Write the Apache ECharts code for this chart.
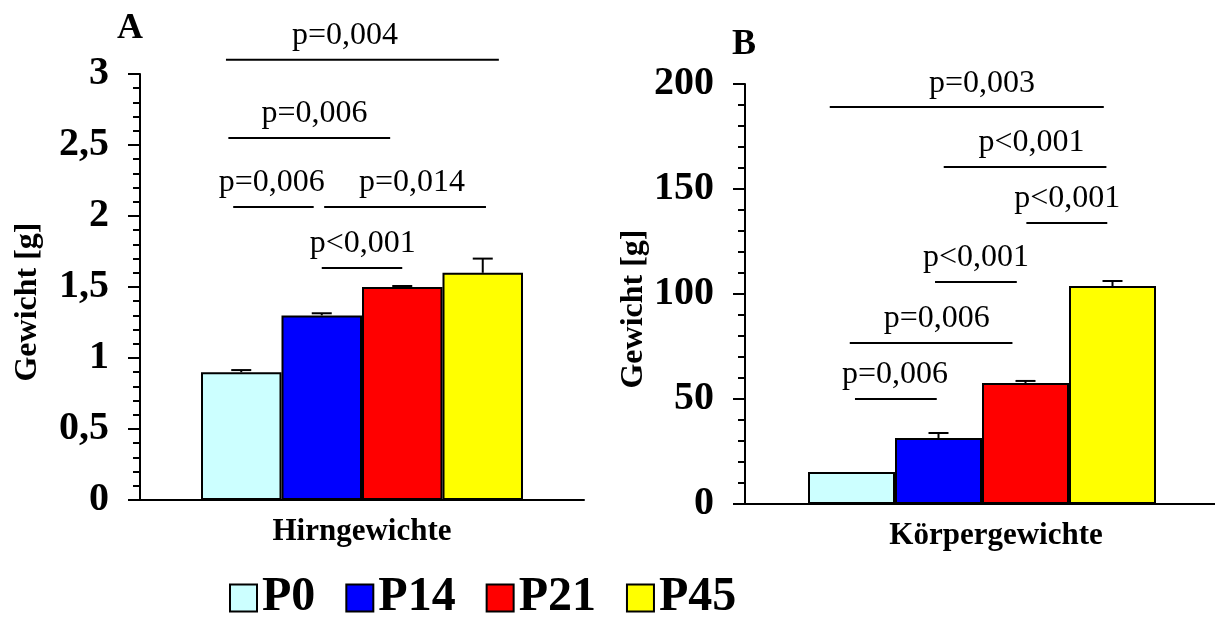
<!DOCTYPE html>
<html>
<head>
<meta charset="utf-8">
<script src="https://cdn.jsdelivr.net/npm/echarts@6/dist/echarts.min.js"></script>
<style>html,body{margin:0;padding:0;background:#fff}#chart{width:1215px;height:620px}</style>
</head>
<body>
<div id="chart"></div>
<script>
var groups = ['P0', 'P14', 'P21', 'P45'];
var colors = ['#ccffff', '#0000ff', '#ff0000', '#ffff00'];
// Hirngewichte [g]
var brainMean = [0.90, 1.30, 1.50, 1.60];
var brainErr = [0.015, 0.015, 0.007, 0.10];
// Körpergewichte [g]
var bodyMean = [15.2, 31.4, 57.6, 103.8];
var bodyErr = [0, 2.4, 1.0, 2.4];
// Signifikanz: [von, bis, Höhe, Text-x, Text]  (von/bis in Balken-Index)
var sigA = [
    [-0.19, 3.20, 3.10, 1.29, 'p=0,004'],
    [-0.16, 1.85, 2.55, 0.91, 'p=0,006'],
    [-0.10, 0.90, 2.063, 0.38, 'p=0,006'],
    [1.03, 3.04, 2.063, 2.12, 'p=0,014'],
    [1.00, 2.00, 1.634, 1.51, 'p<0,001']
];
var sigB = [
    [-0.25, 2.90, 189, 1.50, 'p=0,003'],
    [1.06, 2.93, 160.5, 2.07, 'p<0,001'],
    [2.01, 2.94, 133.8, 2.48, 'p<0,001'],
    [0.96, 1.90, 105.7, 1.43, 'p<0,001'],
    [-0.02, 1.85, 76.7, 0.98, 'p=0,006'],
    [0.04, 0.98, 50.0, 0.50, 'p=0,006']
];

var serif = "'Liberation Serif', 'Times New Roman', serif";
var gA = {left: 140, top: 74, width: 444, height: 426, barW: 80.5};
var gB = {left: 745, top: 84, width: 474, height: 420, barW: 87};

function idxRange(g) {
    var pad = (g.width / 2 - 1.5 * g.barW) / g.barW;
    return {min: -pad, max: 3 + pad};
}
var rA = idxRange(gA), rB = idxRange(gB);

function sigRender(list) {
    return function (params, api) {
        var row = list[params.dataIndex];
        var a = api.coord([row[0], row[2]]);
        var b = api.coord([row[1], row[2]]);
        var t = api.coord([row[3], row[2]]);
        return {
            type: 'group',
            children: [
                {type: 'line', shape: {x1: a[0], y1: a[1], x2: b[0], y2: b[1]}, style: {stroke: '#000', lineWidth: 2}},
                {type: 'text', x: t[0], y: t[1] - 24, style: {text: row[4], font: '32px ' + serif, fill: '#000', align: 'center', verticalAlign: 'middle'}}
            ]
        };
    };
}

function errRender(params, api) {
    var i = api.value(0), m = api.value(1), e = api.value(2);
    if (!e) return null;
    var p0 = api.coord([i, m]);
    var p1 = api.coord([i, m + e]);
    return {
        type: 'group',
        children: [
            {type: 'line', shape: {x1: p0[0], y1: p0[1], x2: p1[0], y2: p1[1]}, style: {stroke: '#000', lineWidth: 2}},
            {type: 'line', shape: {x1: p1[0] - 10, y1: p1[1], x2: p1[0] + 10, y2: p1[1]}, style: {stroke: '#000', lineWidth: 2}}
        ]
    };
}

function yAxisOpt(grid, max, interval, gap) {
    return {
        gridIndex: grid, type: 'value', min: 0, max: max, interval: interval,
        axisLine: {show: true, onZero: false, lineStyle: {color: '#000', width: 2}},
        axisTick: {show: true, length: 12, lineStyle: {color: '#000', width: 2}},
        minorTick: {show: true, splitNumber: 5, length: 7, lineStyle: {color: '#000', width: 2}},
        splitLine: {show: false},
        axisLabel: {
            color: '#000', fontFamily: serif, fontWeight: 'bold', fontSize: 40, margin: 31,
            formatter: function (v) { return String(v).replace('.', ','); }
        },
        name: 'Gewicht [g]', nameLocation: 'middle', nameRotate: 90, nameGap: gap,
        nameTextStyle: {color: '#000', fontFamily: serif, fontWeight: 'bold', fontSize: 32, padding: [0, 30, 0, 0]}
    };
}

function catAxis(grid, name, pad) {
    return {
        gridIndex: grid, type: 'category', data: [name],
        axisLine: {show: true, onZero: false, lineStyle: {color: '#000', width: 2}},
        axisTick: {show: false},
        axisLabel: {color: '#000', fontFamily: serif, fontWeight: 'bold', fontSize: 31, margin: 16, padding: [0, 0, 0, pad]}
    };
}

var series = [];
groups.forEach(function (g, k) {
    series.push({
        name: g, type: 'bar', xAxisIndex: 0, yAxisIndex: 0, data: [brainMean[k]],
        barWidth: gA.barW, barGap: '0%',
        itemStyle: {color: colors[k], borderColor: '#000', borderWidth: 2}
    });
    series.push({
        name: g, type: 'bar', xAxisIndex: 1, yAxisIndex: 1, data: [bodyMean[k]],
        barWidth: gB.barW, barGap: '0%',
        itemStyle: {color: colors[k], borderColor: '#000', borderWidth: 2}
    });
});
series.push({
    type: 'custom', xAxisIndex: 2, yAxisIndex: 0, z: 5, clip: false,
    data: brainMean.map(function (v, i) { return [i, v, brainErr[i]]; }),
    renderItem: errRender
});
series.push({
    type: 'custom', xAxisIndex: 3, yAxisIndex: 1, z: 5, clip: false,
    data: bodyMean.map(function (v, i) { return [i, v, bodyErr[i]]; }),
    renderItem: errRender
});
series.push({
    type: 'custom', xAxisIndex: 2, yAxisIndex: 0, z: 5, clip: false,
    data: sigA.map(function (r) { return [r[0], r[1], r[2], r[3]]; }),
    encode: {x: [0, 1, 3], y: 2},
    renderItem: sigRender(sigA)
});
series.push({
    type: 'custom', xAxisIndex: 3, yAxisIndex: 1, z: 5, clip: false,
    data: sigB.map(function (r) { return [r[0], r[1], r[2], r[3]]; }),
    encode: {x: [0, 1, 3], y: 2},
    renderItem: sigRender(sigB)
});

var myChart = echarts.init(document.getElementById('chart'));
myChart.setOption({
    animation: false,
    backgroundColor: '#fff',
    title: [
        {text: 'A', left: 112, top: 6, textStyle: {color: '#000', fontFamily: serif, fontWeight: 'bold', fontSize: 36}},
        {text: 'B', left: 727, top: 22, textStyle: {color: '#000', fontFamily: serif, fontWeight: 'bold', fontSize: 36}}
    ],
    legend: {
        data: groups, left: 224, top: 569, icon: 'rect', itemWidth: 27, itemHeight: 27, itemGap: 30,
        textStyle: {color: '#000', fontFamily: serif, fontWeight: 'bold', fontSize: 48}
    },
    grid: [
        {left: gA.left, top: gA.top, width: gA.width, height: gA.height, outerBoundsMode: 'none'},
        {left: gB.left, top: gB.top, width: gB.width, height: gB.height, outerBoundsMode: 'none'}
    ],
    xAxis: [
        catAxis(0, 'Hirngewichte', 0),
        catAxis(1, 'Körpergewichte', 28),
        {gridIndex: 0, type: 'value', min: rA.min, max: rA.max, show: false},
        {gridIndex: 1, type: 'value', min: rB.min, max: rB.max, show: false}
    ],
    yAxis: [
        yAxisOpt(0, 3, 0.5, 96),
        yAxisOpt(1, 200, 50, 93)
    ],
    series: series
});
</script>
</body>
</html>
